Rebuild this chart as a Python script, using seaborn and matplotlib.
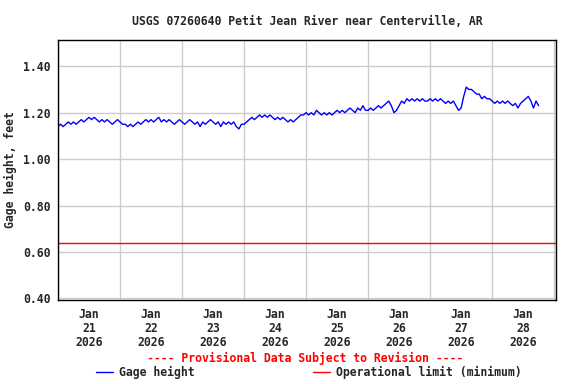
import matplotlib
matplotlib.use("Agg")
import matplotlib.pyplot as plt
import matplotlib.dates as mdates
from matplotlib.lines import Line2D
import seaborn as sns
import pandas as pd
import numpy as np

# Hourly gage height readings (ft), starting Jan 21 2026 00:00
day21 = [1.14, 1.15, 1.14, 1.15, 1.16, 1.15, 1.16, 1.15, 1.16, 1.17, 1.16, 1.17,
         1.18, 1.17, 1.18, 1.17, 1.16, 1.17, 1.16, 1.17, 1.16, 1.15, 1.16, 1.17]
day22 = [1.16, 1.15, 1.15, 1.14, 1.15, 1.14, 1.15, 1.16, 1.15, 1.16, 1.17, 1.16,
         1.17, 1.16, 1.17, 1.18, 1.16, 1.17, 1.16, 1.17, 1.16, 1.15, 1.16, 1.17]
day23 = [1.16, 1.15, 1.16, 1.17, 1.16, 1.15, 1.16, 1.14, 1.16, 1.15, 1.16, 1.17,
         1.16, 1.15, 1.16, 1.14, 1.16, 1.15, 1.16, 1.15, 1.16, 1.14, 1.13, 1.15]
day24 = [1.15, 1.16, 1.17, 1.18, 1.17, 1.18, 1.19, 1.18, 1.19, 1.18, 1.19, 1.18,
         1.17, 1.18, 1.17, 1.18, 1.17, 1.16, 1.17, 1.16, 1.17, 1.18, 1.19, 1.19]
day25 = [1.20, 1.19, 1.20, 1.19, 1.21, 1.20, 1.19, 1.20, 1.19, 1.20, 1.19, 1.20,
         1.21, 1.20, 1.21, 1.20, 1.21, 1.22, 1.21, 1.20, 1.22, 1.21, 1.23, 1.21]
day26 = [1.21, 1.22, 1.21, 1.22, 1.23, 1.22, 1.23, 1.24, 1.25, 1.23, 1.20, 1.21,
         1.23, 1.25, 1.24, 1.26, 1.25, 1.26, 1.25, 1.26, 1.25, 1.26, 1.25, 1.25]
day27 = [1.26, 1.25, 1.26, 1.25, 1.26, 1.25, 1.24, 1.25, 1.24, 1.25, 1.23, 1.21,
         1.22, 1.27, 1.31, 1.30, 1.30, 1.29, 1.28, 1.28, 1.26, 1.27, 1.26, 1.26]
day28 = [1.25, 1.24, 1.25, 1.24, 1.25, 1.24, 1.25, 1.24, 1.23, 1.24, 1.22, 1.24,
         1.25, 1.26, 1.27, 1.25, 1.22, 1.25, 1.23]

operational_limit = 0.64
station_title = "USGS 07260640 Petit Jean River near Centerville, AR"

heights = day21 + day22 + day23 + day24 + day25 + day26 + day27 + day28
times = pd.date_range("2026-01-21 00:00", periods=len(heights), freq="h")
df = pd.DataFrame({"time": times, "height": heights})

sns.set_style("white")
plt.rcParams['font.family'] = ['DejaVu Sans Mono']
plt.rcParams['font.weight'] = 'bold'
fs = 8.3

fig = plt.figure(figsize=(5.76, 3.84), dpi=100)
ax = fig.add_axes([58/576, 1-300/384, 498/576, 260/384])

sns.lineplot(x="time", y="height", data=df, color="#0000ff", linewidth=1.0, ax=ax)
ax.axhline(operational_limit, color="#ff0000", linewidth=1.0)

start = pd.Timestamp("2026-01-21 00:00")
ax.set_xlim(start, start + pd.Timedelta(days=8.03))
ax.set_ylim(0.393, 1.513)

# grid at midnight, labels at noon
ax.xaxis.set_major_locator(mdates.DayLocator())
ax.xaxis.set_major_formatter(plt.NullFormatter())
ax.xaxis.set_minor_locator(mdates.HourLocator(byhour=[12]))
ax.xaxis.set_minor_formatter(mdates.DateFormatter("%b\n%d\n%Y"))
ax.set_yticks([0.4, 0.6, 0.8, 1.0, 1.2, 1.4])
ax.set_yticklabels(["%.2f" % v for v in [0.4, 0.6, 0.8, 1.0, 1.2, 1.4]])

ax.grid(True, which="major", color="#cccccc", linewidth=1.0)
ax.set_axisbelow(True)
ax.tick_params(axis="x", which="both", length=0, pad=6, labelsize=fs)
ax.tick_params(axis="y", length=0, pad=5.5, labelsize=fs)
for lab in ax.get_xticklabels(minor=True):
    lab.set_linespacing(1.1)
    lab.set_fontweight("bold")
for lab in ax.get_yticklabels():
    lab.set_fontweight("bold")

for s in ax.spines.values():
    s.set_color("black")
    s.set_linewidth(1.0)

ax.set_xlabel("")
ax.set_ylabel("Gage height, feet", fontsize=fs, fontweight="bold", labelpad=4)
ax.set_title(station_title, fontsize=fs, fontweight="bold", pad=11)

fig.text(0.530, 1-358/384, "---- Provisional Data Subject to Revision ----",
         color="#ff0000", fontsize=fs, fontweight="bold", ha="center", va="center")

handles = [Line2D([], [], color="#0000ff", linewidth=1.0),
           Line2D([], [], color="#ff0000", linewidth=1.0)]
fig.legend(handles, ["Gage height", "Operational limit (minimum)"],
           loc="center", bbox_to_anchor=(0.536, 1-372/384), ncol=2,
           frameon=False, prop={"size": fs, "weight": "bold"},
           handlelength=1.5, handletextpad=0.5, columnspacing=10.3,
           borderpad=0, borderaxespad=0)

fig.savefig("out.png", dpi=100)
